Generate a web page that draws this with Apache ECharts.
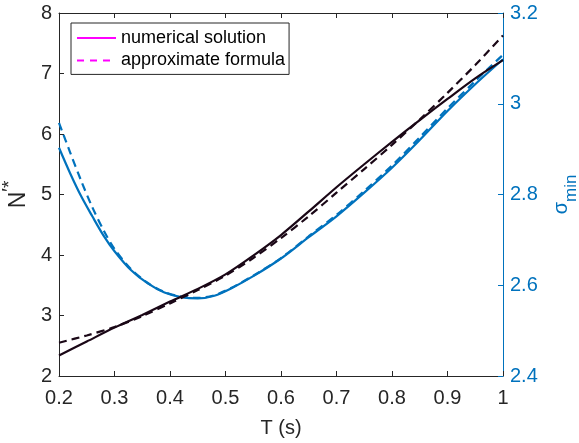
<!DOCTYPE html>
<html>
<head>
<meta charset="utf-8">
<script src="https://cdn.jsdelivr.net/npm/echarts@6/dist/echarts.min.js"></script>
<style>html,body{margin:0;padding:0;background:#fff}#c{width:579px;height:443px}</style>
</head>
<body>
<div id="c"></div>
<script>
// Period T (s) for the N'* curves
var tN = [0.2,0.25,0.3,0.35,0.4,0.45,0.5,0.55,0.6,0.65,0.7,0.75,0.8,0.85,0.9,0.95,1.0];
var nNumerical = [2.34,2.57,2.80,3.01,3.23,3.44,3.68,3.99,4.33,4.72,5.12,5.50,5.87,6.23,6.58,6.92,7.22];
var nApprox    = [2.55,2.67,2.81,2.99,3.20,3.42,3.66,3.95,4.28,4.64,5.03,5.42,5.82,6.24,6.68,7.14,7.63];
// Period T (s) for the sigma_min curves
var tS = [0.2,0.22,0.24,0.26,0.28,0.30,0.33,0.36,0.39,0.42,0.45,0.48,0.51,0.55,0.60,0.65,0.70,0.75,0.80,0.85,0.90,0.95,1.00];
var sNumerical = [2.903,2.847,2.796,2.752,2.710,2.675,2.633,2.604,2.584,2.574,2.571,2.577,2.593,2.620,2.659,2.706,2.752,2.804,2.859,2.920,2.984,3.043,3.098];
var sApprox    = [2.958,2.893,2.830,2.772,2.722,2.680,2.635,2.605,2.585,2.575,2.572,2.578,2.594,2.621,2.660,2.708,2.755,2.808,2.864,2.926,2.990,3.050,3.108];
var legendNames = ['numerical solution','approximate formula'];

function pairs(xs, ys){ return xs.map(function(x,i){ return [x, ys[i]]; }); }

var FONT = "'Liberation Sans', Arial, Helvetica, sans-serif";
var GRAY = '#262626';
var BLUE = '#0072BD';
var DARK = '#1a0716';
var MAG = '#FF00FF';

var chart = echarts.init(document.getElementById('c'), null, {renderer:'canvas'});
chart.setOption({
  animation: false,
  backgroundColor: '#fff',
  grid: {left: 59, right: 76, top: 13, bottom: 67, containLabel: false, outerBoundsMode: 'none'},
  legend: {
    data: legendNames,
    orient: 'vertical',
    left: 71, top: 23,
    padding: [5, 4, 4, 5],
    itemWidth: 39, itemHeight: 14, itemGap: 2.4,
    borderColor: GRAY, borderWidth: 1, backgroundColor: '#fff',
    itemStyle: {opacity: 0},
    textStyle: {fontFamily: FONT, fontSize: 18, color: '#000', lineHeight: 20},
    selectedMode: false
  },
  xAxis: [{
    type: 'value', min: 0.2, max: 1, interval: 0.1,
    name: 'T (s)', nameLocation: 'middle', nameGap: 42,
    nameTextStyle: {fontFamily: FONT, fontSize: 20, color: GRAY},
    axisLine: {show: true, lineStyle: {color: GRAY, width: 1}},
    axisTick: {show: true, inside: true, length: 5, lineStyle: {color: GRAY}},
    axisLabel: {fontFamily: FONT, fontSize: 20, color: GRAY, margin: 12,
      formatter: function(v){ return String(+(+v).toFixed(1)); }},
    splitLine: {show: false}
  }, {
    type: 'value', position: 'top', min: 0.2, max: 1, interval: 0.1,
    axisLine: {show: true, lineStyle: {color: GRAY, width: 1}},
    axisTick: {show: true, inside: true, length: 5, lineStyle: {color: GRAY}},
    axisLabel: {show: false}, splitLine: {show: false}
  }],
  yAxis: [{
    type: 'value', position: 'left', min: 2, max: 8, interval: 1,
    name: '{n|N}{p|′*}', nameLocation: 'middle', nameGap: 24,
    nameTextStyle: {fontFamily: FONT, color: GRAY,
      rich: {
        n: {fontFamily: FONT, fontSize: 23, color: GRAY, lineHeight: 30, verticalAlign: 'bottom'},
        p: {fontFamily: FONT, fontSize: 19, color: GRAY, lineHeight: 18, verticalAlign: 'top'}
      }},
    axisLine: {show: true, lineStyle: {color: GRAY, width: 1}},
    axisTick: {show: true, inside: true, length: 5, lineStyle: {color: GRAY}},
    axisLabel: {fontFamily: FONT, fontSize: 20, color: GRAY, margin: 7,
      formatter: function(v){ return String(Math.round(v)); }},
    splitLine: {show: false}
  }, {
    type: 'value', position: 'right', min: 2.4, max: 3.2, interval: 0.2,
    name: '{s|σ}{m|min}', nameLocation: 'middle', nameGap: 48,
    nameTextStyle: {fontFamily: FONT, color: BLUE,
      rich: {
        s: {fontFamily: FONT, fontSize: 20, color: BLUE, lineHeight: 20, verticalAlign: 'top'},
        m: {fontFamily: FONT, fontSize: 17, color: BLUE, lineHeight: 40, verticalAlign: 'middle'}
      }},
    axisLine: {show: true, lineStyle: {color: BLUE, width: 1}},
    axisTick: {show: true, inside: true, length: 5, lineStyle: {color: BLUE}},
    axisLabel: {fontFamily: FONT, fontSize: 20, color: BLUE, margin: 7,
      formatter: function(v){ return String(+(+v).toFixed(1)); }},
    splitLine: {show: false}
  }],
  series: [
    {name: legendNames[0], type: 'line', data: [], symbol: 'none', color: MAG,
     lineStyle: {color: MAG, width: 2, type: 'solid'}},
    {name: legendNames[1], type: 'line', data: [], symbol: 'none', color: MAG,
     lineStyle: {color: MAG, width: 2, type: [7, 6]}},
    {type: 'line', yAxisIndex: 1, data: pairs(tS, sApprox), symbol: 'none', smooth: 0.3,
     lineStyle: {color: BLUE, width: 2.2, type: [8, 5]}, z: 3},
    {type: 'line', yAxisIndex: 1, data: pairs(tS, sNumerical), symbol: 'none', smooth: 0.3,
     lineStyle: {color: BLUE, width: 2.2}, z: 3},
    {type: 'line', yAxisIndex: 0, data: pairs(tN, nNumerical), symbol: 'none', smooth: 0.3,
     lineStyle: {color: DARK, width: 2.2}, z: 4},
    {type: 'line', yAxisIndex: 0, data: pairs(tN, nApprox), symbol: 'none', smooth: 0.3,
     lineStyle: {color: DARK, width: 2.2, type: [8, 5]}, z: 4}
  ]
});
</script>
</body>
</html>
